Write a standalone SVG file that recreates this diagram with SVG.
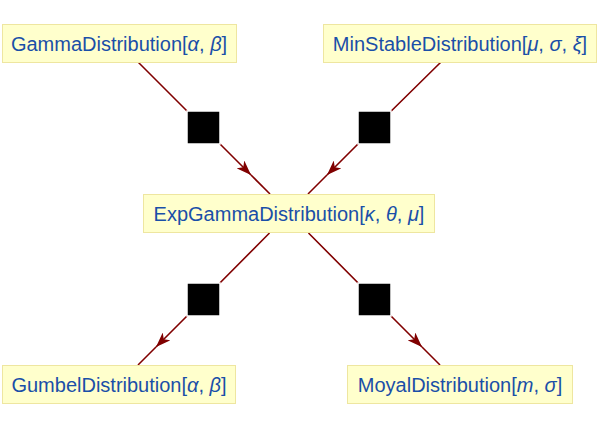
<svg xmlns="http://www.w3.org/2000/svg" width="600" height="430" viewBox="0 0 600 430">
<style>
.box{fill:#FFFFCC;stroke:#EEE6A0;stroke-width:1}
.lbl{font-family:"Liberation Sans",Arial,sans-serif;font-size:20px;fill:#1A4FA8;text-anchor:middle}
.it{font-style:italic}
.edge{fill:none;stroke:#800000;stroke-width:1.6}
.sq{fill:#000;stroke:#fff;stroke-width:1.5}
</style>
<defs>
<marker id="ah" viewBox="0 0 15 11" refX="15" refY="5.5" markerWidth="15" markerHeight="11" markerUnits="userSpaceOnUse" orient="auto">
<path d="M0,0 L15,5.5 L0,11 L4,5.5 Z" fill="#800000"/>
</marker>
</defs>
<rect width="600" height="430" fill="#fff"/>
<g id="connectors">
<path class="edge" d="M138,62 L203.5,127.5 L251,175" marker-end="url(#ah)"/>
<path class="edge" d="M251,175 L270,194"/>
<path class="edge" d="M441,62 L374.5,127.5 L327,175" marker-end="url(#ah)"/>
<path class="edge" d="M327,175 L308,194"/>
<path class="edge" d="M269.5,233 L203.5,299.5 L156,347" marker-end="url(#ah)"/>
<path class="edge" d="M156,347 L138,365"/>
<path class="edge" d="M308.5,233 L374.5,299.5 L422,347" marker-end="url(#ah)"/>
<path class="edge" d="M422,347 L440,365"/>
<rect class="sq" x="187" y="111" width="33" height="33"/>
<rect class="sq" x="358" y="111" width="33" height="33"/>
<rect class="sq" x="187" y="283" width="33" height="33"/>
<rect class="sq" x="358" y="283" width="33" height="33"/>
</g>
<g id="gamma">
<rect class="box" x="2.5" y="24.5" width="234" height="38"/>
<text class="lbl" x="119" y="50.5">GammaDistribution[<tspan class="it">α</tspan>, <tspan class="it">β</tspan>]</text>
</g>
<g id="minstable">
<rect class="box" x="323.5" y="24.5" width="273" height="38"/>
<text class="lbl" x="460" y="50.5">MinStableDistribution[<tspan class="it">μ</tspan>, <tspan class="it">σ</tspan>, <tspan class="it">ξ</tspan>]</text>
</g>
<g id="expgamma">
<rect class="box" x="143.5" y="194.5" width="291" height="38"/>
<text class="lbl" x="289" y="220.5">ExpGammaDistribution[<tspan class="it">κ</tspan>, <tspan class="it">θ</tspan>, <tspan class="it">μ</tspan>]</text>
</g>
<g id="gumbel">
<rect class="box" x="2.5" y="365.5" width="233" height="38"/>
<text class="lbl" x="119" y="391.5">GumbelDistribution[<tspan class="it">α</tspan>, <tspan class="it">β</tspan>]</text>
</g>
<g id="moyal">
<rect class="box" x="347.5" y="365.5" width="225" height="38"/>
<text class="lbl" x="460" y="391.5">MoyalDistribution[<tspan class="it">m</tspan>, <tspan class="it">σ</tspan>]</text>
</g>
</svg>
